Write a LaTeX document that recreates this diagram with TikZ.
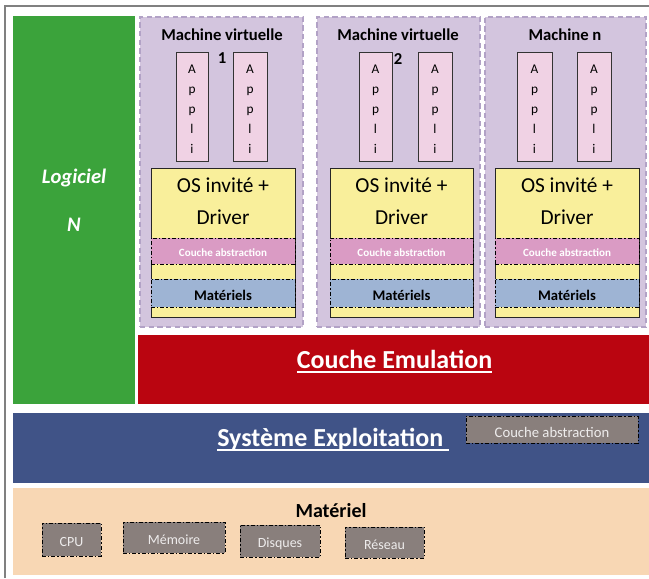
\documentclass[tikz,border=0pt]{standalone}
\usepackage{fontspec}
\setmainfont{Carlito}
\usetikzlibrary{fit}

\definecolor{vertLog}{RGB}{59,163,59}
\definecolor{lavVM}{RGB}{211,197,222}
\definecolor{lavBord}{RGB}{178,162,198}
\definecolor{roseAppli}{RGB}{240,210,228}
\definecolor{jauneOS}{RGB}{249,239,155}
\definecolor{roseCouche}{RGB}{218,155,196}
\definecolor{bleuMat}{RGB}{158,180,212}
\definecolor{rougeEmu}{RGB}{186,5,16}
\definecolor{bleuSE}{RGB}{64,83,135}
\definecolor{peche}{RGB}{248,215,180}
\definecolor{grisComp}{RGB}{137,127,124}
\definecolor{texteClair}{RGB}{238,236,236}

\newcommand{\souligne}[1]{\setbox0\hbox{#1}\rlap{\rule[-3.8pt]{\wd0}{1.5pt}}\box0}

\begin{document}
\begin{tikzpicture}[
x=0.75pt,y=-0.75pt,
bloc/.style={inner sep=0pt,outer sep=0pt},
vm/.style={bloc,fill=lavVM,draw=lavBord,line width=0.9pt,dash pattern=on 4pt off 2.5pt},
appli/.style={bloc,fill=roseAppli,draw=black!80,line width=0.7pt},
lettres/.style={align=center,yshift=-2pt,font=\fontsize{10}{15}\selectfont},
os/.style={bloc,fill=jauneOS,draw=black!85,line width=0.7pt},
bande/.style={bloc,draw=black,line width=0.7pt,dash pattern=on 3pt off 1.5pt on 1pt off 1.5pt},
composant/.style={bande,fill=grisComp},
comptexte/.style={text=texteClair,yshift=-2pt,font=\fontsize{10.5}{12}\selectfont},
titre/.style={font=\bfseries\fontsize{12.5}{15}\selectfont},
ostexte/.style={align=center,font=\fontsize{16}{24}\selectfont},
couche/.style={bande,fill=roseCouche},
matériels/.style={bande,fill=bleuMat},
grand/.style={text=white,inner sep=0pt,font=\bfseries\fontsize{19.5}{22}\selectfont}
]
\useasboundingbox (0,0) rectangle (649,578);
\draw[gray,line width=1.5pt] (5,578) -- (5,6) -- (652,6);

% logiciel
\node[bloc,fill=vertLog,fit={(13,16) (135,404)}] (logiciel) {};
\node[text=white,font=\bfseries\itshape\fontsize{15.5}{18}\selectfont] (logTexte) at (74,178) {Logiciel};
\node[text=white,font=\bfseries\itshape\fontsize{15.5}{18}\selectfont] (logN) at (74,225) {N};

% machines virtuelles
\node[vm,fit={(140,17) (303,327)}] (vm1) {};
\node[vm,fit={(317,17) (480,327)}] (vm2) {};
\node[vm,fit={(485,17) (646,327)}] (vm3) {};
\node[titre] (titre1) at (222,35) {Machine virtuelle};
\node[titre] (titre2) at (398,35) {Machine virtuelle};
\node[titre] (titre3) at (565,35) {Machine n};
\node[titre] (num1) at (222,58) {1};
\node[titre] (num2) at (398,59) {2};

\foreach \g/\d [count=\i] in {176/208,233/267,359/392,418/452,517/552,577/611} {
	\node[appli,fit={(\g,52) (\d,161)}] (appli\i) {};
	\node[lettres] (lettres\i) at (appli\i.center) {A\\p\\p\\l\\i};
}

\foreach \g/\d [count=\i] in {151/295,330/473,495/639} {
	\node[os,fit={(\g,168) (\d,317)}] (os\i) {};
	\node[ostexte] (osTexte\i) at ({(\g+\d)/2},201) {OS invité +\\Driver};
	\node[couche,fit={(\g,238) (\d,264)}] (couche\i) {};
	\node[text=white,yshift=-1.5pt,font=\bfseries\fontsize{8.3}{10}\selectfont] at (couche\i.center) {Couche abstraction};
	\node[matériels,fit={(\g,279) (\d,307)}] (mat\i) {};
	\node[yshift=-1.5pt,font=\bfseries\fontsize{11}{13}\selectfont] at (mat\i.center) {Matériels};
}

% couches basses
\node[bloc,fill=rougeEmu,fit={(138,335) (649,404)}] (emulation) {};
\node[grand,anchor=base] (emuTexte) at (394.5,368) {\souligne{Couche Emulation}};

\node[bloc,fill=bleuSE,fit={(13,413) (649,483)}] (systeme) {};
\node[grand,anchor=base west] (seTexte) at (217,446) {\souligne{Système Exploitation\ }};
\node[composant,fit={(466,416) (638,443)}] (coucheSE) {};
\node[comptexte,font=\fontsize{11}{13}\selectfont] at (coucheSE.center) {Couche abstraction};

\node[bloc,fill=peche,fit={(13,488) (649,575)}] (materiel) {};
\node[font=\bfseries\fontsize{15}{18}\selectfont] (matTexte) at (331,511) {Matériel};
\node[composant,fit={(42,523) (101,556)}] (cpu) {};
\node[composant,fit={(123,522) (225,553)}] (memoire) {};
\node[composant,fit={(240,525) (320,557)}] (disques) {};
\node[composant,fit={(345,527) (424,558)}] (reseau) {};
\node[comptexte] at (cpu.center) {CPU};
\node[comptexte] at (memoire.center) {Mémoire};
\node[comptexte] at (disques.center) {Disques};
\node[comptexte] at (reseau.center) {Réseau};

\end{tikzpicture}
\end{document}
